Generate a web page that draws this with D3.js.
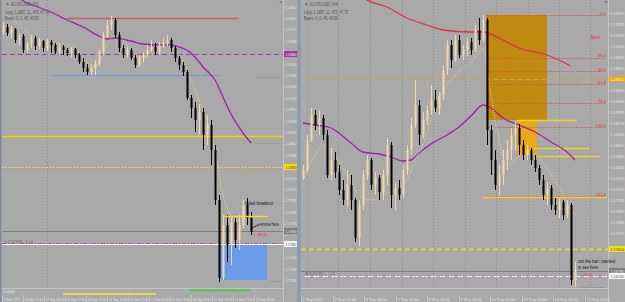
<!DOCTYPE html>
<html><head><meta charset="utf-8">
<script src="https://cdn.jsdelivr.net/npm/d3@7"></script>
<style>
body{margin:0;background:#a9a9a9}
svg{display:block}
text{font-family:"Liberation Sans",Arial,sans-serif}
</style></head>
<body><svg id="c" width="625" height="302"></svg>
<script>
// ---------------- LEFT PANEL DATA (H1) ----------------
const leftOpen=[1.1968,1.1973,1.1967,1.1971,1.1960,1.1964,1.1950,1.1956,1.1962,1.1954,1.1959,1.1952,1.1958,1.1955,1.1948,1.1953,1.1950,1.1947,1.1951,1.1945,1.1938,1.1932,1.1928,1.1932,1.1936,1.1948,1.1965,1.1975,1.1980,1.1965,1.1952,1.1945,1.1950,1.1942,1.1935,1.1942,1.1945,1.1950,1.1953,1.1948,1.1955,1.1957,1.1960,1.1952,1.1942,1.1935,1.1928,1.1902,1.1892,1.1880,1.1888,1.1865,1.1875,1.1850,1.1800,1.1722,1.1775,1.1755,1.1778,1.1760,1.1775,1.1795,1.1782];
const leftHigh=[1.1978,1.1976,1.1974,1.1972,1.1967,1.1966,1.1959,1.1965,1.1964,1.1962,1.1960,1.1961,1.1960,1.1957,1.1956,1.1955,1.1952,1.1953,1.1952,1.1947,1.1942,1.1936,1.1935,1.1940,1.1950,1.1968,1.1980,1.1984,1.1982,1.1968,1.1955,1.1953,1.1952,1.1945,1.1945,1.1948,1.1955,1.1960,1.1957,1.1958,1.1962,1.1965,1.1962,1.1954,1.1944,1.1938,1.1930,1.1905,1.1898,1.1896,1.1892,1.1885,1.1880,1.1855,1.1805,1.1785,1.1785,1.1782,1.1782,1.1785,1.1800,1.1802,1.1788];
const leftLow=[1.1965,1.1964,1.1962,1.1957,1.1955,1.1947,1.1947,1.1952,1.1950,1.1951,1.1948,1.1949,1.1947,1.1946,1.1945,1.1945,1.1944,1.1943,1.1942,1.1936,1.1928,1.1925,1.1925,1.1925,1.1934,1.1945,1.1962,1.1970,1.1962,1.1948,1.1942,1.1942,1.1940,1.1932,1.1933,1.1938,1.1943,1.1948,1.1945,1.1945,1.1952,1.1954,1.1948,1.1938,1.1930,1.1924,1.1900,1.1882,1.1868,1.1865,1.1850,1.1855,1.1835,1.1795,1.1718,1.1720,1.1738,1.1735,1.1752,1.1750,1.1772,1.1775,1.1765];
const leftClose=[1.1974,1.1967,1.1971,1.1960,1.1964,1.1950,1.1956,1.1962,1.1954,1.1959,1.1952,1.1958,1.1955,1.1948,1.1953,1.1950,1.1947,1.1951,1.1945,1.1938,1.1932,1.1928,1.1932,1.1936,1.1948,1.1965,1.1975,1.1980,1.1965,1.1952,1.1945,1.1950,1.1942,1.1935,1.1942,1.1945,1.1950,1.1953,1.1948,1.1955,1.1957,1.1960,1.1952,1.1942,1.1935,1.1928,1.1902,1.1892,1.1880,1.1888,1.1865,1.1875,1.1850,1.1800,1.1722,1.1775,1.1755,1.1778,1.1760,1.1775,1.1795,1.1782,1.1768];
// slow MA (purple) and fast MA (yellow dotted): [bar index, price]
const leftSlowMA=[[0,1.2025],[4,1.2002],[8,1.1994],[12,1.1988],[16,1.1980],[20,1.1973],[24,1.1964],[26,1.1961],[28,1.1962],[32,1.1959],[35,1.1956],[39,1.1955],[42,1.1955],[44,1.1953],[47,1.1947],[48,1.1943],[50,1.1933],[52,1.1925],[53,1.1920],[54,1.1912],[55,1.1903],[56,1.1894],[57,1.1886],[58,1.1879],[59,1.1873],[60,1.1867],[61,1.1862],[62,1.1857]];
const leftFastMA=[[0,1.1988],[3,1.1978],[6,1.1968],[9,1.1960],[12,1.1958],[15,1.1956],[18,1.1952],[21,1.1938],[23,1.1934],[25,1.1945],[27,1.1962],[29,1.1964],[31,1.1955],[33,1.1945],[35,1.1942],[37,1.1948],[39,1.1952],[41,1.1955],[43,1.1950],[45,1.1940],[47,1.1920],[49,1.1900],[51,1.1880],[53,1.1850],[55,1.1805],[57,1.1785],[59,1.1778],[61,1.1782],[62,1.1787]];
const leftTicks=["1.19930","1.19816","1.19702","1.19588","1.19474","1.19360","1.19246","1.19132","1.19018","1.18904","1.18790","1.18676","1.18562","1.18448","1.18334","1.18220","1.18106","1.17992","1.17878","1.17764","1.17650","1.17536","1.17422","1.17308","1.17194"];
const leftTimes=["1 Sep 2021","13 Sep 21:00","14 Sep 02:00","14 Sep 07:00","14 Sep 12:00","14 Sep 17:00","14 Sep 22:00","15 Sep 03:00","15 Sep 08:00","15 Sep 13:00","15 Sep 18:00","15 Sep 23:00","16 Sep 04:00"];
const leftRedLine={p:1.1982,a:16,b:59};
const leftPurpleDash=1.1946;
const leftBlueLine={p:1.1925,a:12,b:54.5};
const leftGoldLine=1.1864;
const leftYellowDot=1.1833;
const leftTanDash=1.1831;
const leftGreyLine=1.1769;
const leftPinkLine=1.1756;
const leftBlueBox={a:54,b:66,p1:1.1755,p2:1.1720};
const leftBreakLine={p:1.1784,a:55,b:66.3};

// ---------------- RIGHT PANEL DATA (H4) ----------------
const rightOpen=[1.1772,1.1780,1.1810,1.1835,1.1825,1.1832,1.1815,1.1775,1.1790,1.1778,1.1760,1.1750,1.1765,1.1750,1.1712,1.1745,1.1775,1.1790,1.1765,1.1772,1.1758,1.1775,1.1805,1.1755,1.1762,1.1755,1.1780,1.1800,1.1825,1.1845,1.1815,1.1830,1.1840,1.1850,1.1842,1.1855,1.1880,1.1905,1.1890,1.1910,1.1895,1.1900,1.1908,1.1900,1.1920,1.1910,1.1930,1.1820,1.1790,1.1765,1.1775,1.1790,1.1800,1.1815,1.1822,1.1805,1.1795,1.1800,1.1790,1.1782,1.1770,1.1755,1.1762,1.1745,1.1740,1.1748,1.1735,1.1745,1.1670];
const rightHigh=[1.1785,1.1815,1.1842,1.1840,1.1840,1.1835,1.1820,1.1802,1.1798,1.1785,1.1770,1.1780,1.1775,1.1752,1.1750,1.1780,1.1795,1.1792,1.1778,1.1775,1.1780,1.1812,1.1808,1.1767,1.1770,1.1785,1.1805,1.1832,1.1870,1.1850,1.1838,1.1845,1.1865,1.1860,1.1858,1.1885,1.1910,1.1910,1.1915,1.1915,1.1905,1.1912,1.1912,1.1925,1.1932,1.1935,1.1932,1.1825,1.1800,1.1785,1.1800,1.1810,1.1822,1.1828,1.1826,1.1810,1.1805,1.1802,1.1795,1.1785,1.1775,1.1768,1.1765,1.1752,1.1752,1.1750,1.1750,1.1747,1.1688];
const rightLow=[1.1770,1.1778,1.1808,1.1820,1.1815,1.1810,1.1772,1.1770,1.1772,1.1755,1.1745,1.1743,1.1740,1.1708,1.1704,1.1740,1.1770,1.1760,1.1755,1.1750,1.1750,1.1765,1.1742,1.1740,1.1750,1.1752,1.1775,1.1795,1.1822,1.1805,1.1812,1.1825,1.1835,1.1838,1.1835,1.1850,1.1875,1.1882,1.1888,1.1892,1.1890,1.1894,1.1895,1.1898,1.1905,1.1908,1.1805,1.1775,1.1760,1.1754,1.1765,1.1780,1.1790,1.1800,1.1795,1.1790,1.1790,1.1785,1.1778,1.1765,1.1750,1.1745,1.1740,1.1735,1.1732,1.1730,1.1732,1.1665,1.1663];
const rightClose=[1.1780,1.1810,1.1835,1.1825,1.1832,1.1815,1.1775,1.1790,1.1778,1.1760,1.1750,1.1765,1.1750,1.1712,1.1745,1.1775,1.1790,1.1765,1.1772,1.1758,1.1775,1.1805,1.1755,1.1762,1.1755,1.1780,1.1800,1.1825,1.1845,1.1815,1.1830,1.1840,1.1850,1.1842,1.1855,1.1880,1.1905,1.1890,1.1910,1.1895,1.1900,1.1908,1.1900,1.1920,1.1910,1.1930,1.1820,1.1790,1.1765,1.1775,1.1790,1.1800,1.1815,1.1822,1.1805,1.1795,1.1800,1.1790,1.1782,1.1770,1.1755,1.1762,1.1745,1.1740,1.1748,1.1735,1.1745,1.1670,1.1680];
const rightRedMA=[[10,1.1970],[16,1.1950],[21,1.1943],[26,1.1932],[31,1.1925],[35,1.1920],[42,1.1918],[45,1.1918],[50,1.1910],[54,1.1902],[61,1.1895],[67,1.1884]];
const rightSlowMA=[[0,1.1827],[3,1.1825],[7,1.1822],[12,1.1807],[15,1.1798],[19,1.1796],[22,1.1793],[25,1.1789],[27,1.1790],[29,1.1797],[32,1.1806],[36,1.1815],[39,1.1823],[42,1.1834],[45,1.1845],[47,1.1842],[50,1.1832],[54,1.1825],[58,1.1818],[62,1.1808],[66,1.1798],[68,1.1790]];
const rightFastMA=[[0,1.1770],[3,1.1795],[5,1.1805],[8,1.1795],[11,1.1775],[14,1.1755],[17,1.1750],[20,1.1755],[23,1.1760],[26,1.1770],[28,1.1790],[30,1.1805],[32,1.1830],[34,1.1853],[36,1.1865],[38,1.1875],[40,1.1882],[42,1.1888],[44,1.1898],[45,1.1902],[47,1.1855],[49,1.1810],[51,1.1785],[53,1.1790],[55,1.1798],[57,1.1800],[59,1.1792],[61,1.1782],[63,1.1770],[65,1.1755],[67,1.1740],[68,1.1735]];
const rightTicks=["1.19370","1.19260","1.19150","1.19040","1.18930","1.18820","1.18710","1.18600","1.18490","1.18380","1.18270","1.18160","1.18050","1.17940","1.17830","1.17720","1.17610","1.17500","1.17390","1.17280","1.17170","1.17060","1.16950","1.16840","1.16730"];
const rightTimes=["1 Sep 2021","2 Sep 14:00","3 Sep 16:00","7 Sep 12:00","8 Sep 14:00","9 Sep 16:00","10 Sep 12:00","13 Sep 14:00","14 Sep 16:00","15 Sep 12:00"];
const fibLevels=["0.0","38.2","50.0","61.8","78.6","100.0","161.8"];
const fibHigh=1.1935, fibLow=1.1823;
const rightTanDash=1.1871;
const rightBigBox={a:45.8,b:61,p1:1.1935,p2:1.1830};
const rightSmallBox={a:53.5,b:58.5,p1:1.1830,p2:1.1795};
const rightYellowShort=[{p:1.1830,a:53.5,b:68.5},{p:1.1802,a:57.5,b:71.5},{p:1.1794,a:58.5,b:74.3},{p:1.1753,a:45,b:76}];
const rightYellowDash=1.1701;
const rightGreyLine=1.1679;
const rightPinkLine=1.1674;

// ---------------- DRAW ----------------
const svg=d3.select("#c");
const BG="#a9a9a9";
svg.append("rect").attr("width",625).attr("height",302).attr("fill",BG);

function txt(g,x,y,s,size,fill,len){
  const t=g.append("text").attr("x",x).attr("y",y).attr("font-size",size).attr("fill",fill).text(s);
  if(len) t.attr("textLength",len).attr("lengthAdjust","spacingAndGlyphs");
  return t;
}

function drawPanel(o){
  const g=svg.append("g");
  const x=d3.scaleLinear().domain([0,1]).range([o.x0,o.x0+o.step]);
  const y=d3.scaleLinear().domain(o.pDomain).range([0,288]);
  const clipId="clip"+o.id;
  svg.append("clipPath").attr("id",clipId).append("rect").attr("x",o.plotL).attr("y",0).attr("width",o.plotR-o.plotL).attr("height",288);
  const pg=g.append("g").attr("clip-path",`url(#${clipId})`);
  o.vgrid.forEach(i=>pg.append("line").attr("x1",Math.round(x(i))+0.5).attr("x2",Math.round(x(i))+0.5).attr("y1",0).attr("y2",288)
     .attr("stroke","#8e8e8e").attr("stroke-dasharray","1,2"));
  o.back(pg,x,y);
  const line=d3.line().x(d=>x(d[0])).y(d=>y(d[1])).curve(d3.curveMonotoneX);
  o.mas.forEach(m=>pg.append("path").attr("d",line(m.data)).attr("fill","none").attr("stroke",m.color)
     .attr("stroke-width",m.w).attr("stroke-dasharray",m.dash||null));
  const cd=d3.range(o.open.length).map(i=>({i,o:o.open[i],h:o.high[i],l:o.low[i],c:o.close[i]}));
  const col=d=>d.c>=d.o?"#f2d8ac":"#000";
  pg.selectAll("line.wick").data(cd).join("line").attr("class","wick")
    .attr("x1",d=>Math.round(x(d.i))+0.5).attr("x2",d=>Math.round(x(d.i))+0.5)
    .attr("y1",d=>y(d.h)).attr("y2",d=>y(d.l)).attr("stroke",col).attr("stroke-width",1);
  pg.selectAll("rect.body").data(cd).join("rect").attr("class","body")
    .attr("x",d=>Math.round(x(d.i))-0.5).attr("width",2)
    .attr("y",d=>Math.min(y(d.o),y(d.c))).attr("height",d=>Math.max(1,Math.abs(y(d.o)-y(d.c))))
    .attr("fill",col);
  o.front(pg,x,y);
  g.append("line").attr("x1",o.plotR+0.5).attr("x2",o.plotR+0.5).attr("y1",0).attr("y2",302).attr("stroke","#c4c4c4");
  g.append("line").attr("x1",o.plotL).attr("x2",o.plotR).attr("y1",288.5).attr("y2",288.5).attr("stroke","#c4c4c4");
  const hlY=o.hl.map(h=>y(h.p));
  o.ticks.forEach(t=>{
    const yy=y(+t);
    g.append("line").attr("x1",o.plotR).attr("x2",o.plotR+2).attr("y1",Math.round(yy)+0.5).attr("y2",Math.round(yy)+0.5).attr("stroke","#c4c4c4");
    if(hlY.some(h=>Math.abs(h-yy)<6.5)) return; // hidden under a highlighted price label
    txt(g,o.plotR+2.5,yy+1.6,t,4.4,"#e4e4e4",o.labW);
  });
  o.hl.forEach(h=>{
    const yy=y(h.p);
    g.append("rect").attr("x",o.plotR+1).attr("y",yy-3).attr("width",o.axisW).attr("height",6).attr("fill",h.bg);
    txt(g,o.plotR+2.5,yy+1.6,h.p.toFixed(5),4.4,h.fg,o.labW);
  });
  o.times.forEach((t,k)=>{
    const xx=Math.round(o.timeX0+k*o.timeStep);
    g.append("line").attr("x1",xx+0.5).attr("x2",xx+0.5).attr("y1",295).attr("y2",302).attr("stroke","#c4c4c4");
    txt(g,xx+1.5,300.5,t,o.timeFont,"#e4e4e4");
  });
  txt(g,o.plotL+3,6,"▼ "+o.title,4.8,"#5e6670");
  txt(g,o.plotL+3,13.5,"Long: 1.1897, 11, 475, 47.70",4.6,"#555",44);
  txt(g,o.plotL+3,19.5,"Bears: 0, 0, 45, 43.50",4.6,"#555",34);
  g.append("path").attr("d",`M${o.plotR-4},1 l4,0 l-2,3 z`).attr("fill","#8a8a8a");
  return {x,y,g};
}

function hline(g,x,y,p,a,b,color,w,dash,xs){
  const yy=Math.round(y(p))+0.5;
  g.append("line").attr("x1",a==null?xs[0]:x(a)).attr("x2",b==null?xs[1]:x(b)).attr("y1",yy).attr("y2",yy)
   .attr("stroke",color).attr("stroke-width",w).attr("stroke-dasharray",dash||null);
}

// LEFT
drawPanel({
  id:"L", x0:3, step:4, plotL:2, plotR:283, axisW:13, labW:11, pDomain:[1.2000,1.1712],
  open:leftOpen,high:leftHigh,low:leftLow,close:leftClose, ticks:leftTicks, times:leftTimes,
  timeX0:2, timeStep:21, timeFont:3.2, title:"EURUSD,H1", vgrid:[11],
  mas:[{data:leftSlowMA,color:"#a020a8",w:1.3},{data:leftFastMA,color:"#e8e070",w:1,dash:"1,1.5"}],
  hl:[{p:leftPurpleDash,bg:"#9a3c9a",fg:"#fff"},{p:leftYellowDot,bg:"#f2dc10",fg:"#444"},{p:leftGreyLine,bg:"#7c7c7c",fg:"#eee"},{p:leftPinkLine,bg:"#f4f4f4",fg:"#555"}],
  back:(pg,x,y)=>{
    const xs=[2,283];
    hline(pg,x,y,leftRedLine.p,leftRedLine.a,leftRedLine.b,"#d06060",1.5,null,xs);
    hline(pg,x,y,leftPurpleDash,null,null,"#a040a8",1.2,"5,3",xs);
    hline(pg,x,y,leftBlueLine.p,leftBlueLine.a,leftBlueLine.b,"#6e9adf",1,null,xs);
    hline(pg,x,y,leftGoldLine,null,null,"#f0d000",1.5,null,xs);
    hline(pg,x,y,leftYellowDot,null,null,"#e8e890",1,"1,2",xs);
    hline(pg,x,y,leftTanDash,null,null,"#c0a060",1,"5,3",xs);
    hline(pg,x,y,leftGreyLine,null,null,"#7e7e7e",1,null,xs);
    hline(pg,x,y,leftPinkLine,null,null,"#ffffff",1,null,xs);
    hline(pg,x,y,leftPinkLine+0.0001,null,null,"#b050b0",1,"4,2,1,2",xs);
    pg.append("rect").attr("x",x(leftBlueBox.a)).attr("width",x(leftBlueBox.b)-x(leftBlueBox.a))
      .attr("y",y(leftBlueBox.p1)).attr("height",y(leftBlueBox.p2)-y(leftBlueBox.p1)).attr("fill","#6a9ae8");
    txt(pg,241,y(leftTanDash)+3.5,"UT Low",4.4,"#c8a050",13);
    txt(pg,5,y(leftPinkLine)-1.5,"1.17979(M) - 1.1 4",4.2,"#6a6a6a",28);
    [[1.1923,257],[1.1857,257],[1.1719,270]].forEach(d=>{
      pg.append("line").attr("x1",d[1]).attr("x2",281).attr("y1",Math.round(y(d[0]))+0.5).attr("y2",Math.round(y(d[0]))+0.5)
        .attr("stroke","#8c8c8c").attr("stroke-dasharray","1,1");
    });
  },
  front:(pg,x,y)=>{
    hline(pg,x,y,leftBreakLine.p,leftBreakLine.a,leftBreakLine.b,"#f4e020",1.6,null,[0,0]);
    txt(pg,245,205,"failed breakout",4.8,"#1a1a1a",28);
    txt(pg,259,226,"remove here",4.8,"#1a1a1a",20);
    pg.append("line").attr("x1",250).attr("y1",229).attr("x2",259).attr("y2",224.5).attr("stroke","#111").attr("stroke-width",0.8);
    txt(pg,254,236,"<--88.00",4.2,"#e03030",13);
  }
});
svg.append("text").attr("x",3).attr("y",292.5).attr("font-size",4).attr("fill","#e4e4e4").text("0.0000");
svg.append("rect").attr("x",63).attr("y",293).attr("width",93).attr("height",1.8).attr("fill","#e8e040");
svg.append("rect").attr("x",189).attr("y",289.5).attr("width",62).attr("height",1.8).attr("fill","#40d040");

svg.append("rect").attr("x",297).attr("y",0).attr("width",4).attr("height",302).attr("fill","#8f9aaa");
svg.append("rect").attr("x",0).attr("y",0).attr("width",1.5).attr("height",302).attr("fill","#7f8ba0");

// RIGHT
drawPanel({
  id:"R", x0:303, step:4, plotL:301, plotR:608, axisW:16, labW:13.5, pDomain:[1.1950,1.1662],
  open:rightOpen,high:rightHigh,low:rightLow,close:rightClose, ticks:rightTicks, times:rightTimes,
  timeX0:301, timeStep:31.5, timeFont:4.0, title:"EURUSD,H4", vgrid:[1,8.75,16.75,24.75,32.5,40.5,48.25,56.25,64,71.75],
  mas:[{data:rightRedMA,color:"#e0304a",w:1.3},{data:rightSlowMA,color:"#a020a8",w:1.3},{data:rightFastMA,color:"#e8e070",w:1,dash:"1,1.5"}],
  hl:[{p:rightTanDash,bg:"#e8a818",fg:"#fff"},{p:rightYellowDash,bg:"#f2dc10",fg:"#444"},{p:rightGreyLine,bg:"#7c7c7c",fg:"#eee"},{p:rightPinkLine,bg:"#f4f4f4",fg:"#555"}],
  back:(pg,x,y)=>{
    const xs=[301,608];
    pg.append("rect").attr("x",x(rightBigBox.a)).attr("width",x(rightBigBox.b)-x(rightBigBox.a))
      .attr("y",y(rightBigBox.p1)).attr("height",y(rightBigBox.p2)-y(rightBigBox.p1)).attr("fill","#c08a10");
    pg.append("rect").attr("x",x(rightSmallBox.a)).attr("width",x(rightSmallBox.b)-x(rightSmallBox.a))
      .attr("y",y(rightSmallBox.p1)).attr("height",y(rightSmallBox.p2)-y(rightSmallBox.p1)).attr("fill","#e8a818");
    hline(pg,x,y,rightTanDash,null,null,"#c8a050",1,"5,3",xs);
    txt(pg,567,y(rightTanDash)+2.5,"UT Low",4.4,"#c8a050",13);
    fibLevels.forEach(l=>{
      const p=fibHigh-(fibHigh-fibLow)*(+l)/100;
      hline(pg,x,y,p,45.8,75.5,"#e04848",1,"1,1.5",xs);
      pg.append("text").attr("x",606).attr("y",y(p)-0.5).attr("text-anchor","end").attr("font-size",4.2).attr("fill","#e03838").text(l);
    });
    rightYellowShort.forEach(s=>hline(pg,x,y,s.p,s.a,s.b,"#f0d020",1.3,null,xs));
    hline(pg,x,y,rightYellowDash,null,null,"#e2d050",2,"5,3",xs);
    hline(pg,x,y,rightGreyLine,null,null,"#7e7e7e",1,null,xs);
    hline(pg,x,y,rightPinkLine,null,null,"#ffffff",1,null,xs);
    hline(pg,x,y,rightPinkLine,null,null,"#e090e0",1,"4,2,1,2",xs);
    txt(pg,590,39,"3pm",5,"#e03030",10);
    txt(pg,305,y(rightGreyLine)+4,"AUDUSDSELL - 1.1/4",4.2,"#6a6a6a",30);
    txt(pg,572,y(rightYellowDash)+3.5,"UT Low",4.2,"#c8a050",12);
    pg.append("line").attr("x1",580).attr("x2",606).attr("y1",287.5).attr("y2",287.5).attr("stroke","#8c8c8c").attr("stroke-dasharray","1,1");
    txt(pg,579,276,"<--90.00",4.2,"#e03030",13);
  },
  front:(pg,x,y)=>{}
});
txt(svg,578,263,"not the bar i wanted",4.6,"#1a1a1a",37);
txt(svg,578,268.5,"to see here",4.6,"#1a1a1a",20);
</script></body></html>
